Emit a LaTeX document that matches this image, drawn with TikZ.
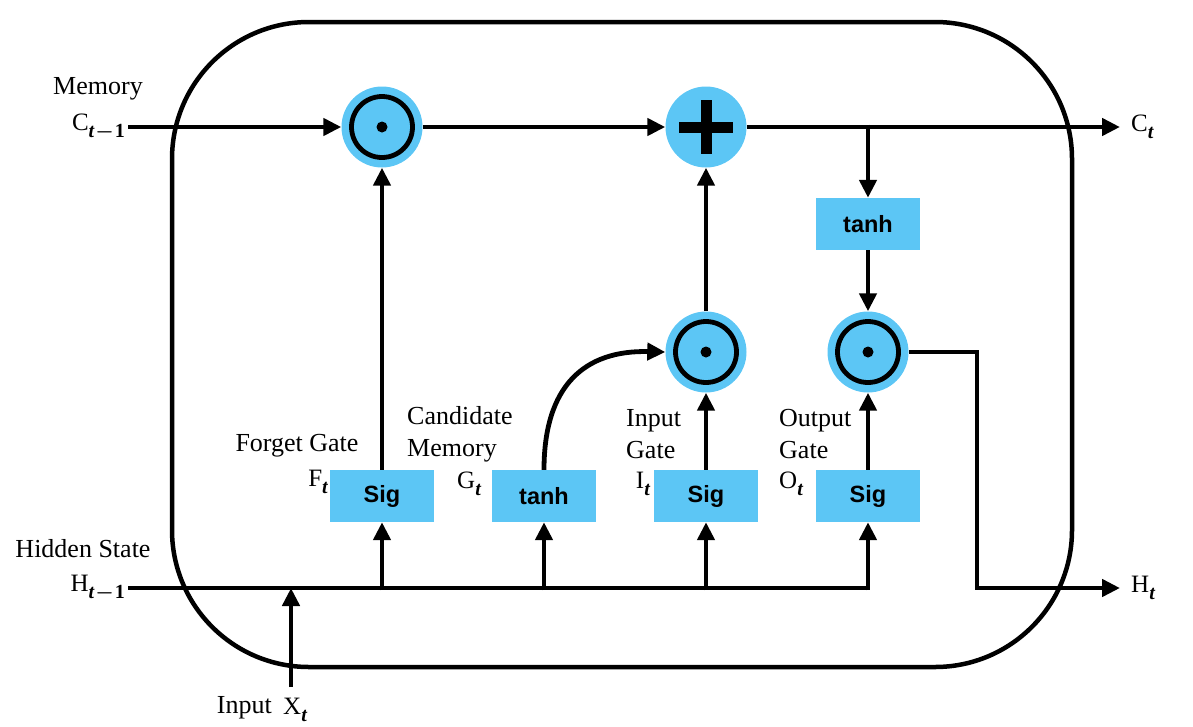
\documentclass[tikz,border=0pt]{standalone}
\usepackage{amsmath}
\usepackage{fontspec}
\setmainfont{Liberation Serif}
\newfontfamily\boxfont{Liberation Sans}
\usetikzlibrary{arrows.meta}
\definecolor{lb}{RGB}{92,198,245}
\newcommand{\subt}{{\bfseries\itshape t}}
\newcommand{\subtm}{{\bfseries\itshape t}\kern0.05em$\boldsymbol{-}$\kern0.05em{\bfseries 1}}
\newcommand{\vlab}[2]{{\fontsize{25}{28}\selectfont #1\raisebox{-0.3em}{\fontsize{20}{20}\selectfont #2}}}
\begin{document}
\begin{tikzpicture}[x=1pt,y=-1pt,
  conn/.style={line width=4.8pt},
  arr/.style={conn,-{Triangle[length=18pt,width=17pt]}},
  op/.style={circle,fill=lb,minimum size=81pt,inner sep=0pt},
  mult/.style={op,path picture={
     \draw[black,line width=4.8pt] (path picture bounding box.center) circle (30.5pt);
     \fill[black] (path picture bounding box.center) circle (5.5pt);}},
  addop/.style={op,path picture={
     \fill[black] ([shift={(-27pt,-5.5pt)}]path picture bounding box.center) rectangle ([shift={(27pt,5.5pt)}]path picture bounding box.center);
     \fill[black] ([shift={(-5.5pt,-27pt)}]path picture bounding box.center) rectangle ([shift={(5.5pt,27pt)}]path picture bounding box.center);}},
  gatebox/.style={rectangle,fill=lb,minimum width=104pt,minimum height=52pt,inner sep=0pt,
     font=\boxfont\bfseries\fontsize{23.5}{26}\selectfont},
  lbl/.style={font=\fontsize{26}{32}\selectfont,inner sep=0pt,align=left}
]
\useasboundingbox (0,0) rectangle (1193,726);
% cell outline
\node[draw,line width=4.5pt,rounded corners=137pt,minimum width=900pt,minimum height=645pt,inner sep=0pt] (cell) at (622,344.5) {};

% operators
\node[mult] (m1) at (382,127) {};
\node[addop] (add) at (706,127) {};
\node[mult] (m2) at (706,352) {};
\node[mult] (m3) at (868,352) {};

% gate boxes
\node[gatebox] (fg) at (382,496) {Sig};
\node[gatebox] (cand) at (544,496) {tanh};
\node[gatebox] (ig) at (706,496) {Sig};
\node[gatebox] (og) at (868,496) {Sig};
\node[gatebox] (tc) at (868,224) {tanh};

% coordinates
\coordinate (cin) at (128,127);
\coordinate (cout) at (1120,127);
\coordinate (br) at (868,127);
\coordinate (hin) at (128,588);
\coordinate (hout) at (1120,588);
\coordinate (hc) at (977,352);
\coordinate (xin) at (291,687);

% labels
\node[lbl] (memlbl) at (98,89) {Memory};
\node[lbl,anchor=east] (clbl) at (125,127) {\vlab{C}{\subtm}};
\node[lbl,anchor=west] (ctlbl) at (1131,127) {\vlab{C}{\subt}};
\node[lbl] (hslbl) at (83,549) {Hidden State};
\node[lbl,anchor=east] (hlbl) at (125,588) {\vlab{H}{\subtm}};
\node[lbl,anchor=west] (htlbl) at (1131,588) {\vlab{H}{\subt}};
\node[lbl,anchor=east] (xlbl) at (272,708) {Input};
\node[lbl,anchor=west] (xtlbl) at (283,710) {\vlab{X}{\subt}};
\node[lbl] (fglbl) at (297,446) {Forget Gate};
\node[lbl,anchor=east] (ftlbl) at (328,482) {\vlab{F}{\subt}};
\node[lbl,anchor=west] (candlbl) at (407,434) {Candidate\\Memory};
\node[lbl,anchor=east] (gtlbl) at (481,484) {\vlab{G}{\subt}};
\node[lbl,anchor=west] (iglbl) at (626,434) {Input\\Gate};
\node[lbl,anchor=east] (itlbl) at (650,484) {\vlab{I}{\subt}};
\node[lbl,anchor=west] (oglbl) at (779,434) {Output\\Gate};
\node[lbl,anchor=west] (otlbl) at (779,484) {\vlab{O}{\subt}};

% memory path
\draw[arr] (cin) -- (m1);
\draw[arr] (m1) -- (add);
\draw[arr] (add) -- (cout);
\draw[arr] ([yshift=2.4pt]br) -- (tc);
\draw[arr] (tc) -- (m3);
\draw[arr] (m2) -- (add);
\draw[arr] (fg) -- (m1);
\draw[arr] (cand.north) .. controls (544,385) and (585,350) .. (m2.west);
\draw[arr] (ig) -- (m2);
\draw[arr] (og) -- (m3);

% hidden path
\draw[conn] (hin) -- (og |- hin);
\draw[arr] ([yshift=-2.4pt]fg |- hin) -- (fg.south);
\draw[arr] ([yshift=-2.4pt]cand |- hin) -- (cand.south);
\draw[arr] ([yshift=-2.4pt]ig |- hin) -- (ig.south);
\draw[arr] ([yshift=-2.4pt]og |- hin) -- (og.south);
\draw[arr] (xin) -- (xin |- hin);
\draw[arr,line join=miter] (m3.east) -- (hc) |- (hout);
\end{tikzpicture}
\end{document}
